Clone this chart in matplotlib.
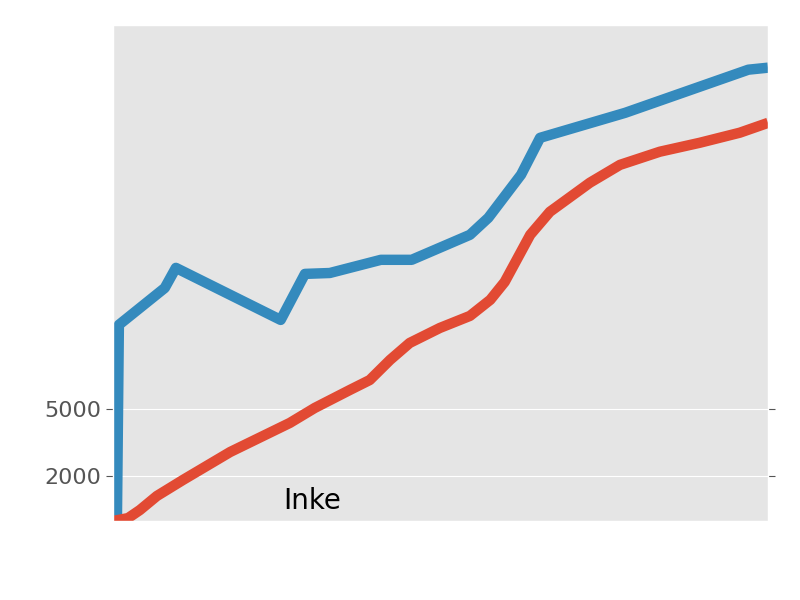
import matplotlib
matplotlib.use("Agg")
import matplotlib.pyplot as plt
import numpy as np

plt.style.use("ggplot")

blue_x = [0.6, 0.9, 7.9, 9.6, 25.6, 29.3, 33.1, 40.9, 45.6, 54.5, 57.3, 62.3, 65.2, 78.2, 97.0, 100.0]
blue_y = [0, 8.78, 10.43, 11.33, 9.0, 11.06, 11.1, 11.69, 11.69, 12.81, 13.57, 15.5, 17.15, 18.27, 20.2, 20.29]
red_x = [0, 2.3, 4.1, 6.7, 10.7, 17.9, 27.0, 30.8, 36.2, 39.2, 42.3, 45.3, 49.9, 54.5, 57.6, 59.8, 63.7, 66.7, 72.8, 77.4, 83.5, 89.6, 95.7, 100.0]
red_y = [0, 0.13, 0.49, 1.12, 1.84, 3.09, 4.39, 5.06, 5.87, 6.31, 7.21, 7.97, 8.64, 9.18, 9.9, 10.7, 12.81, 13.84, 15.14, 15.94, 16.53, 16.93, 17.38, 17.82]
ytick_vals = [2000, 5000]

fig = plt.figure(figsize=(8, 6), dpi=100)
ax = fig.add_axes([113/800, 79/600, 655/800, 496/600])
ax.plot(blue_x, np.array(blue_y) * 1000, color="#348ABD", lw=7.5, solid_capstyle="butt")
ax.plot(red_x, np.array(red_y) * 1000, color="#E24A33", lw=7.5, solid_capstyle="butt")
ax.set_xlim(0, 100)
ax.set_ylim(0, 22200)
ax.set_xticks([])
ax.set_yticks(ytick_vals)
ax.set_yticklabels([str(v) for v in ytick_vals], fontsize=16)
ax.tick_params(axis="y", right=True, direction="out", length=5)
ax.grid(axis="x", visible=False)
ax.text(30.4, 900, "Inke", fontsize=20, ha="center", va="center", color="black")
fig.savefig("out.png")
